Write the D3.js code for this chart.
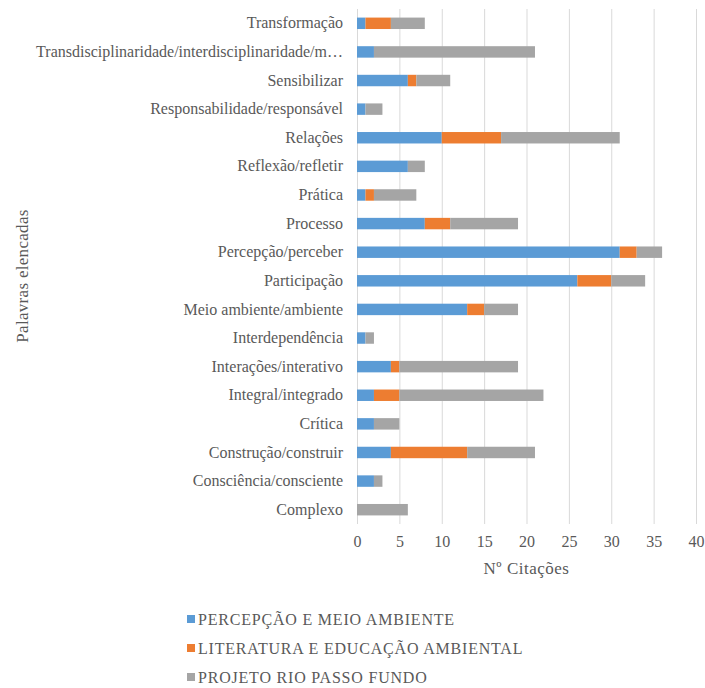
<!DOCTYPE html>
<html lang="pt">
<head>
<meta charset="UTF-8">
<title>Palavras elencadas</title>
<script src="https://d3js.org/d3.v7.min.js"></script>
<style>
  body { margin: 0; background: #fff; }
  svg text { font-family: 'Liberation Serif', 'Times New Roman', Times, serif !important; fill: #595959; }
</style>
</head>
<body>
<div id="chart"></div>
<script>
// categories, top to bottom as in the picture
var categories = [
    "Transformação",
    "Transdisciplinaridade/interdisciplinaridade/m…",
    "Sensibilizar",
    "Responsabilidade/responsável",
    "Relações",
    "Reflexão/refletir",
    "Prática",
    "Processo",
    "Percepção/perceber",
    "Participação",
    "Meio ambiente/ambiente",
    "Interdependência",
    "Interações/interativo",
    "Integral/integrado",
    "Crítica",
    "Construção/construir",
    "Consciência/consciente",
    "Complexo"
];
var seriesNames = ["PERCEPÇÃO E MEIO AMBIENTE", "LITERATURA E EDUCAÇÃO AMBIENTAL", "PROJETO RIO PASSO FUNDO"];
var percepcao  = [1, 2, 6, 1, 10, 6, 1, 8, 31, 26, 13, 1, 4, 2, 2, 4, 2, 0];
var literatura = [3, 0, 1, 0, 7, 0, 1, 3, 2, 4, 2, 0, 1, 3, 0, 9, 0, 0];
var projeto    = [4, 19, 4, 2, 14, 2, 5, 8, 3, 4, 4, 1, 14, 17, 3, 8, 1, 6];
var xTicks = [0, 5, 10, 15, 20, 25, 30, 35, 40];
var colors = ["#5B9BD5", "#ED7D31", "#A5A5A5"];

var width = 705, height = 688;
var svg = d3.select("#chart").append("svg")
    .attr("width", width)
    .attr("height", height);

var x = d3.scaleLinear().domain([0, 40]).range([357, 696]);
var y = d3.scaleBand().domain(categories).range([9, 524])
    .paddingInner(0.6).paddingOuter(0.3);

// gridlines
svg.append("g").selectAll("line")
    .data(xTicks)
    .enter().append("line")
    .attr("x1", function(d) { return x(d) + 0.5; })
    .attr("x2", function(d) { return x(d) + 0.5; })
    .attr("y1", 9)
    .attr("y2", 524)
    .attr("stroke", "#d9d9d9")
    .attr("stroke-width", 1);

// stack the three series
var rows = categories.map(function(c, i) {
    return { cat: c, s0: percepcao[i], s1: literatura[i], s2: projeto[i] };
});
var stack = d3.stack().keys(["s0", "s1", "s2"]);
var layers = stack(rows);

svg.append("g").selectAll("g")
    .data(layers)
    .enter().append("g")
    .attr("fill", function(d, i) { return colors[i]; })
    .selectAll("rect")
    .data(function(d) { return d; })
    .enter().append("rect")
    .attr("x", function(d) { return x(d[0]); })
    .attr("width", function(d) { return x(d[1]) - x(d[0]); })
    .attr("y", function(d) { return y(d.data.cat); })
    .attr("height", y.bandwidth());

// x tick labels
var xAxis = svg.append("g")
    .attr("transform", "translate(0,524)")
    .call(d3.axisBottom(x).tickValues(xTicks).tickSize(0).tickPadding(12));
xAxis.select(".domain").remove();
xAxis.selectAll("text")
    .attr("fill", "#595959")
    .style("font-size", "16px");

// y category labels
var yAxis = svg.append("g")
    .attr("transform", "translate(357,0)")
    .call(d3.axisLeft(y).tickSize(0).tickPadding(14));
yAxis.select(".domain").remove();
yAxis.selectAll("text")
    .attr("fill", "#595959")
    .style("font-size", "16px");

// axis titles
svg.append("text")
    .attr("x", (357 + 696) / 2)
    .attr("y", 574)
    .attr("text-anchor", "middle")
    .style("font-size", "17px")
    .style("letter-spacing", "0.5px")
    .text("Nº Citações");

svg.append("text")
    .attr("transform", "translate(22,276) rotate(-90)")
    .attr("text-anchor", "middle")
    .attr("dy", "0.35em")
    .style("font-size", "17px")
    .style("letter-spacing", "0.3px")
    .text("Palavras elencadas");

// legend
var legend = svg.append("g").selectAll("g")
    .data(seriesNames)
    .enter().append("g")
    .attr("transform", function(d, i) { return "translate(187," + (619 + i * 29) + ")"; });
legend.append("rect")
    .attr("x", 0)
    .attr("y", -4)
    .attr("width", 8)
    .attr("height", 8)
    .attr("fill", function(d, i) { return colors[i]; });
legend.append("text")
    .attr("x", 11)
    .attr("dy", "0.35em")
    .style("font-size", "16px")
    .style("letter-spacing", "0.8px")
    .text(function(d) { return d; });
</script>
</body>
</html>
